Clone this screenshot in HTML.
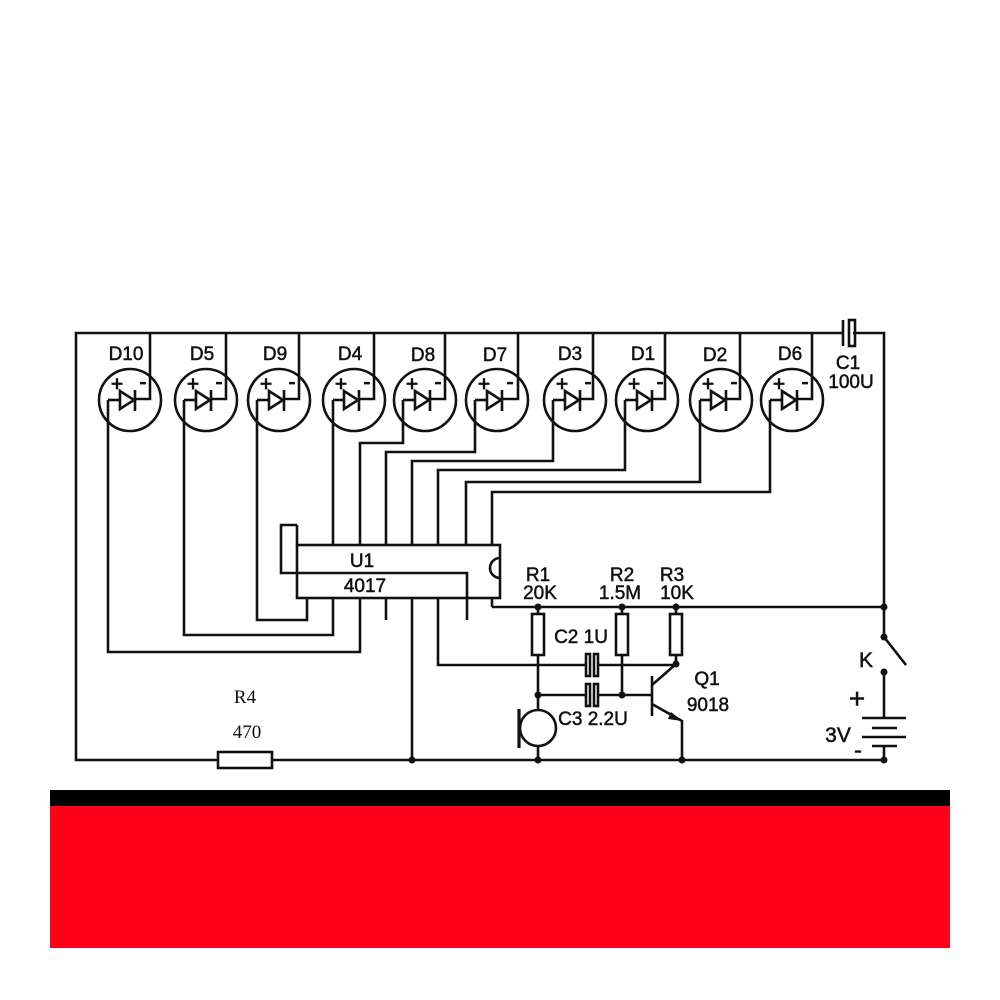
<!DOCTYPE html>
<html><head><meta charset="utf-8"><style>body{margin:0;background:#fff}svg{display:block}</style></head>
<body>
<svg width="1000" height="1000" viewBox="0 0 1000 1000" xmlns="http://www.w3.org/2000/svg">
<rect width="1000" height="1000" fill="#fff"/>
<g fill="none" stroke="#111" stroke-width="2.6">
<polyline points="843,333 76,333 76,760 884,760"/>
<polyline points="853,333 884,333 884,637"/>
<line x1="843" y1="320" x2="843" y2="346"/>
<rect x="849" y="320" width="6" height="26"/>

<circle cx="130" cy="400" r="31"/><polyline points="150,333 150,399 135,399"/><line x1="108" y1="400" x2="120" y2="400"/><path d="M120,391 L134,400 L120,409 Z"/><line x1="135" y1="390" x2="135" y2="411"/>
<circle cx="206" cy="400" r="31"/><polyline points="226,333 226,399 211,399"/><line x1="184" y1="400" x2="196" y2="400"/><path d="M196,391 L210,400 L196,409 Z"/><line x1="211" y1="390" x2="211" y2="411"/>
<circle cx="279" cy="400" r="31"/><polyline points="299,333 299,399 284,399"/><line x1="257" y1="400" x2="269" y2="400"/><path d="M269,391 L283,400 L269,409 Z"/><line x1="284" y1="390" x2="284" y2="411"/>
<circle cx="354" cy="400" r="31"/><polyline points="374,333 374,399 359,399"/><line x1="333" y1="400" x2="344" y2="400"/><path d="M344,391 L358,400 L344,409 Z"/><line x1="359" y1="390" x2="359" y2="411"/>
<circle cx="425" cy="400" r="31"/><polyline points="445,333 445,399 430,399"/><line x1="403" y1="400" x2="415" y2="400"/><path d="M415,391 L429,400 L415,409 Z"/><line x1="430" y1="390" x2="430" y2="411"/>
<circle cx="497" cy="400" r="31"/><polyline points="518,333 518,399 502,399"/><line x1="475" y1="400" x2="487" y2="400"/><path d="M487,391 L501,400 L487,409 Z"/><line x1="502" y1="390" x2="502" y2="411"/>
<circle cx="575" cy="400" r="31"/><polyline points="593,333 593,399 580,399"/><line x1="553" y1="400" x2="565" y2="400"/><path d="M565,391 L579,400 L565,409 Z"/><line x1="580" y1="390" x2="580" y2="411"/>
<circle cx="647" cy="400" r="31"/><polyline points="665,333 665,399 652,399"/><line x1="625" y1="400" x2="637" y2="400"/><path d="M637,391 L651,400 L637,409 Z"/><line x1="652" y1="390" x2="652" y2="411"/>
<circle cx="721" cy="400" r="31"/><polyline points="740,333 740,399 726,399"/><line x1="700" y1="400" x2="711" y2="400"/><path d="M711,391 L725,400 L711,409 Z"/><line x1="726" y1="390" x2="726" y2="411"/>
<circle cx="792" cy="400" r="31"/><polyline points="812,333 812,399 797,399"/><line x1="770" y1="400" x2="782" y2="400"/><path d="M782,391 L796,400 L782,409 Z"/><line x1="797" y1="390" x2="797" y2="411"/>

<rect x="297" y="545" width="203" height="53"/>
<polyline points="297,525 281,525 281,573 467,573 467,620"/>
<line x1="297" y1="525" x2="297" y2="545"/>
<path d="M500,558 A10,10 0 0 0 500,578"/>
<polyline points="333,400 333,545"/>
<polyline points="403,400 403,443 360,443 360,545"/>
<polyline points="475,400 475,452 386,452 386,545"/>
<polyline points="553,400 553,461 412,461 412,545"/>
<polyline points="625,400 625,470 438,470 438,545"/>
<polyline points="700,400 700,482 466,482 466,545"/>
<polyline points="770,400 770,492 492,492 492,545"/>
<polyline points="257,400 257,620 307,620 307,598"/>
<polyline points="184,400 184,635 333,635 333,598"/>
<polyline points="108,400 108,652 360,652 360,598"/>
<line x1="386" y1="598" x2="386" y2="620"/>
<line x1="412" y1="598" x2="412" y2="760"/>
<line x1="492" y1="598" x2="492" y2="607"/>
<line x1="492" y1="607" x2="884" y2="607"/>
<line x1="538" y1="607" x2="538" y2="695"/>
<rect x="532" y="614" width="12" height="41" fill="#fff"/>
<line x1="622" y1="607" x2="622" y2="695"/>
<rect x="616" y="614" width="12" height="41" fill="#fff"/>
<line x1="676" y1="607" x2="676" y2="664"/>
<rect x="670" y="614" width="12" height="41" fill="#fff"/>
<polyline points="438,598 438,665 587,665"/>
<line x1="597" y1="665" x2="676" y2="665"/>
<rect x="586" y="654" width="4" height="22"/>
<rect x="594" y="654" width="4" height="22"/>
<line x1="538" y1="695" x2="587" y2="695"/>
<line x1="597" y1="695" x2="652" y2="695"/>
<rect x="586" y="684" width="4" height="22"/>
<rect x="594" y="684" width="4" height="22"/>
<line x1="652" y1="676" x2="652" y2="716"/>
<line x1="652" y1="685" x2="676" y2="664"/>
<polyline points="652,704 682,721 682,760"/>
<line x1="538" y1="695" x2="538" y2="760"/>
<circle cx="538" cy="728" r="18" fill="#fff"/>
<line x1="519" y1="709" x2="519" y2="748" stroke-width="3.2"/>
<line x1="884" y1="637" x2="906" y2="665"/>
<line x1="884" y1="672" x2="884" y2="718"/>
<line x1="862" y1="718" x2="906" y2="718"/>
<line x1="872" y1="728" x2="897" y2="728"/>
<line x1="862" y1="737" x2="906" y2="737"/>
<line x1="872" y1="746" x2="897" y2="746"/>
<line x1="884" y1="746" x2="884" y2="760"/>
<rect x="218" y="752" width="54" height="16" fill="#fff"/>
</g>
<path d="M682,721 l-11,-9 l-3,7 z" fill="#111"/>
<g fill="#111">
<circle cx="884" cy="607" r="3.5"/><circle cx="884" cy="637" r="3.5"/><circle cx="884" cy="672" r="3.5"/><circle cx="884" cy="760" r="3.5"/>
<circle cx="538" cy="607" r="3.5"/><circle cx="622" cy="607" r="3.5"/><circle cx="676" cy="607" r="3.5"/>
<circle cx="676" cy="664" r="3.5"/><circle cx="538" cy="695" r="3.5"/><circle cx="622" cy="695" r="3.5"/>
<circle cx="412" cy="760" r="3.5"/><circle cx="538" cy="760" r="3.5"/><circle cx="682" cy="760" r="3.5"/>
</g>
<g font-family="Liberation Sans, sans-serif" font-size="19" fill="#111" stroke="#111" stroke-width="0.5" text-anchor="middle">
<text x="126" y="360">D10</text><text x="202" y="360">D5</text><text x="275" y="360">D9</text><text x="350" y="360">D4</text>
<text x="423" y="361">D8</text><text x="495" y="361">D7</text><text x="570" y="360">D3</text><text x="643" y="360">D1</text>
<text x="715" y="361">D2</text><text x="790" y="360">D6</text>
<text x="362" y="567">U1</text><text x="365" y="592">4017</text>
<g font-size="21" stroke-width="0.8"><text x="117" y="391">+</text><text x="143" y="389">-</text>
<text x="193" y="391">+</text><text x="219" y="389">-</text>
<text x="266" y="391">+</text><text x="292" y="389">-</text>
<text x="341" y="391">+</text><text x="367" y="389">-</text>
<text x="412" y="391">+</text><text x="438" y="389">-</text>
<text x="484" y="391">+</text><text x="510" y="389">-</text>
<text x="562" y="391">+</text><text x="588" y="389">-</text>
<text x="634" y="391">+</text><text x="660" y="389">-</text>
<text x="708" y="391">+</text><text x="734" y="389">-</text>
<text x="779" y="391">+</text><text x="805" y="389">-</text></g>
<text x="848" y="369">C1</text><text x="851" y="388">100U</text>
<text x="538" y="581">R1</text><text x="540" y="599">20K</text>
<text x="622" y="581">R2</text><text x="620" y="599">1.5M</text>
<text x="672" y="581">R3</text><text x="677" y="599">10K</text>
<text x="581" y="643">C2 1U</text>
<text x="593" y="725">C3 2.2U</text>
<text x="707" y="685">Q1</text><text x="708" y="711">9018</text>
<text x="866" y="667" font-size="21">K</text>
<text x="857" y="708" font-size="28">+</text>
<text x="838" y="742" font-size="21">3V</text>
<text x="858" y="758" font-size="24">-</text>
</g>
<g font-family="Liberation Serif, serif" font-size="19" fill="#111" text-anchor="middle">
<text x="245" y="703">R4</text><text x="247" y="738">470</text>
</g>
<rect x="50" y="790" width="900" height="16" fill="#000"/>
<rect x="50" y="806" width="900" height="142" fill="#ff0018"/>
</svg>
</body></html>
